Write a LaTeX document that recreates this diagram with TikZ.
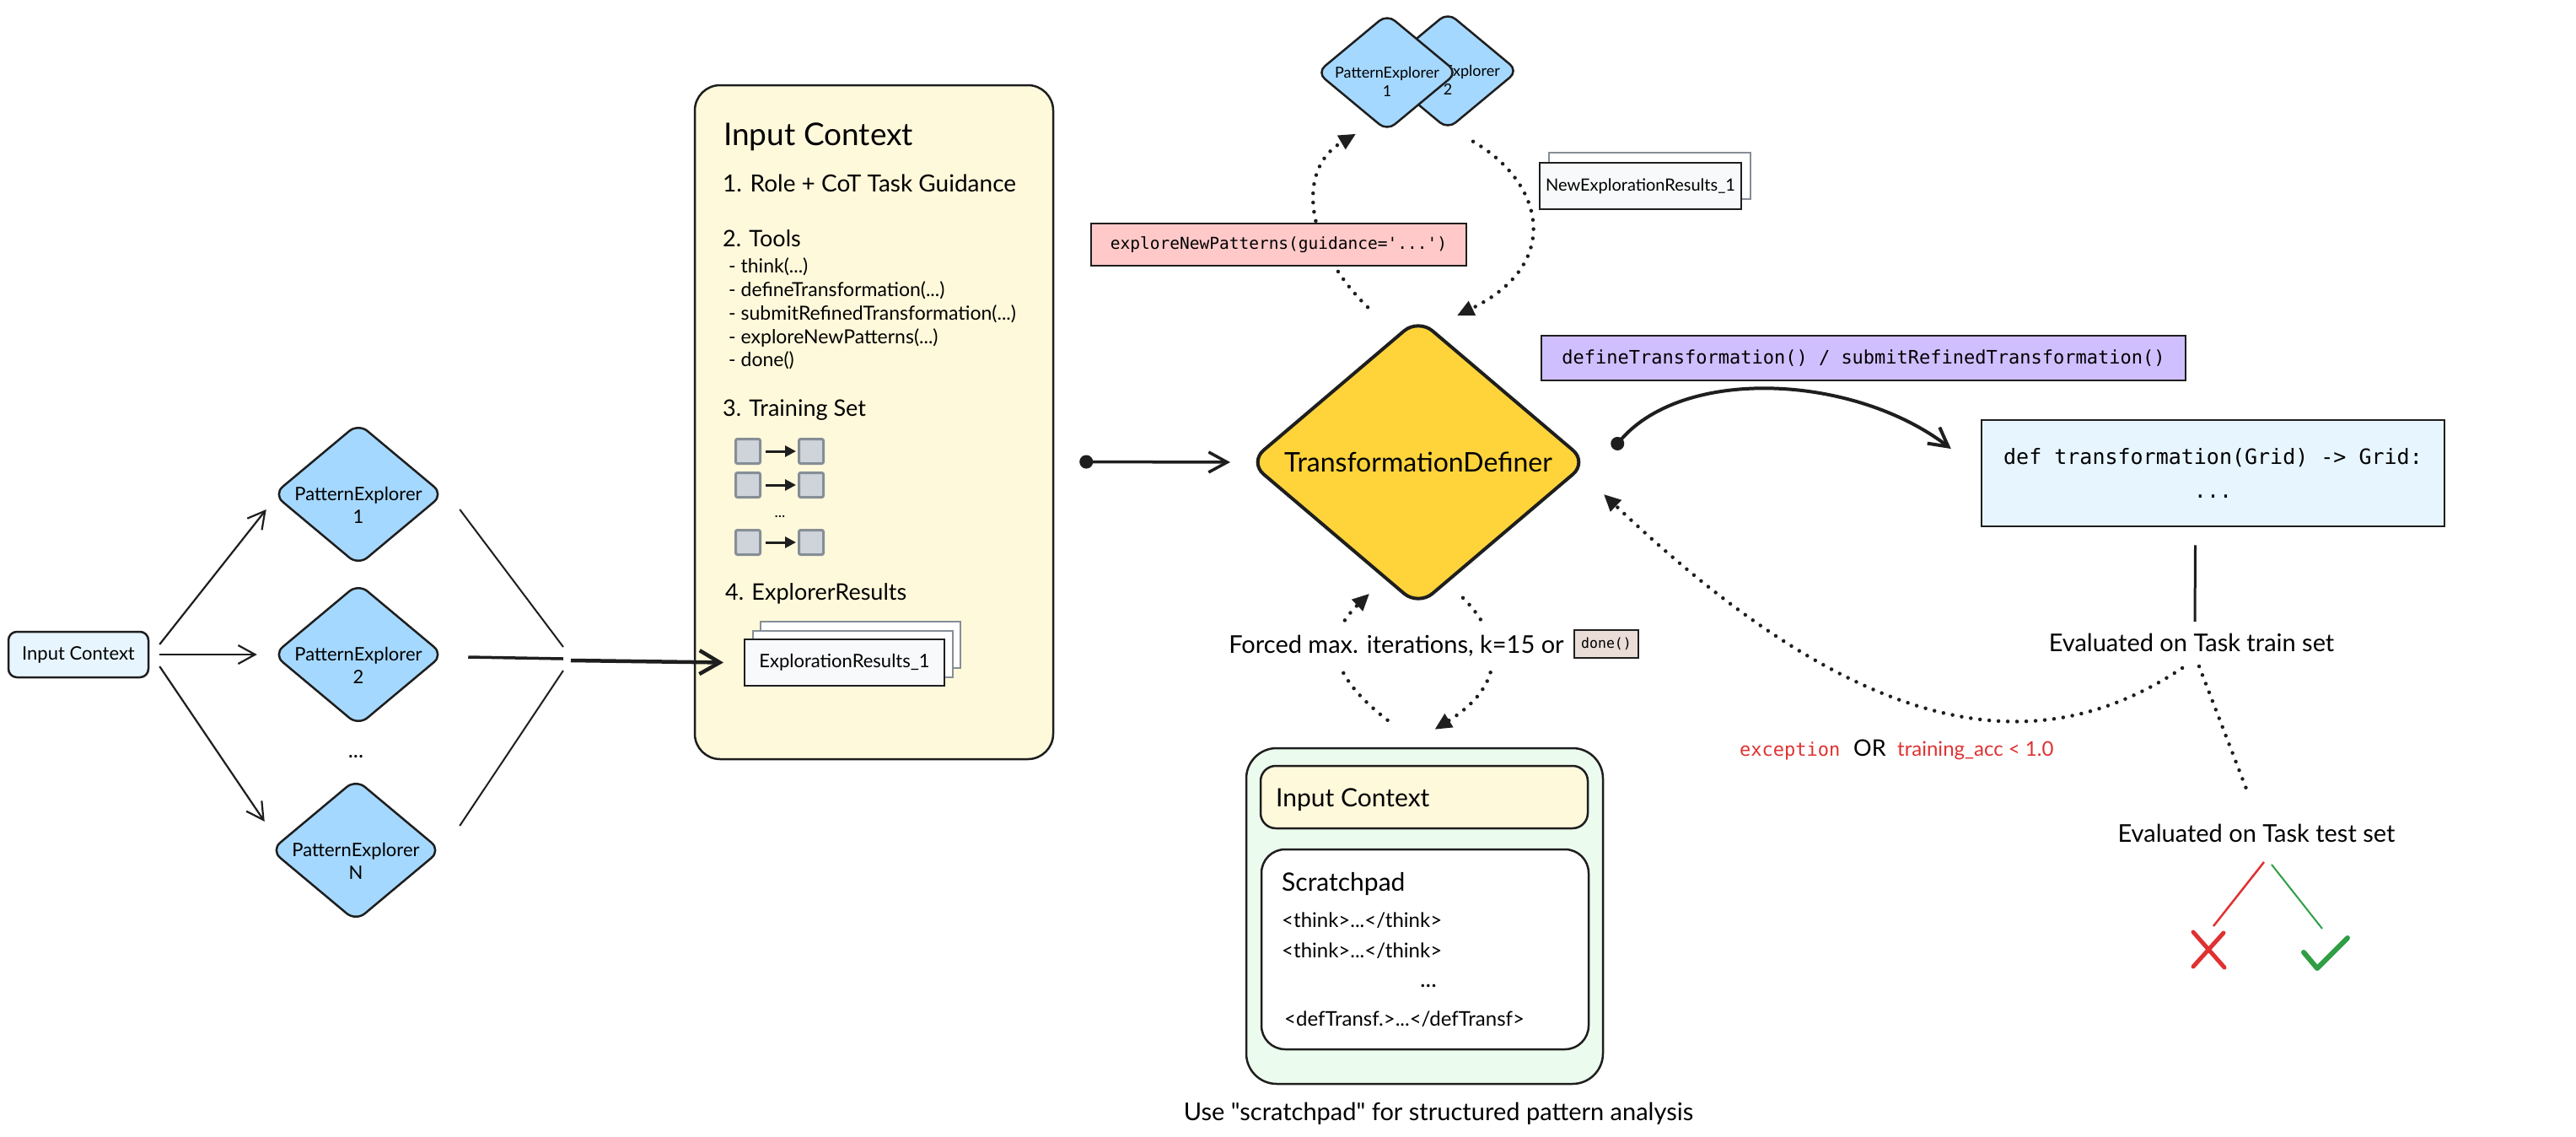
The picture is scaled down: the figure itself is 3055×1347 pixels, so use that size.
\documentclass[tikz,border=0pt]{standalone}
\usepackage{fontspec}
\setmainfont{Lato}
\setmonofont{DejaVu Sans Mono}
\newfontfamily\plainlato{Lato}
\usetikzlibrary{shapes.geometric,arrows.meta}

\definecolor{ink}{HTML}{1E1E1E}
\definecolor{peblue}{HTML}{A5D8FF}
\definecolor{paleblue}{HTML}{E7F5FF}
\definecolor{cream}{HTML}{FFF9DB}
\definecolor{gold}{HTML}{FFD43B}
\definecolor{rose}{HTML}{FFC9C9}
\definecolor{lilac}{HTML}{D0BFFF}
\definecolor{mint}{HTML}{EBFBEE}
\definecolor{sand}{HTML}{EADDD7}
\definecolor{cellfill}{HTML}{CED4DA}
\definecolor{cellline}{HTML}{868E96}
\definecolor{paper}{HTML}{F8F9FA}
\definecolor{errred}{HTML}{E03131}
\definecolor{okgreen}{HTML}{2F9E44}

\newcommand{\fsz}[1]{\fontsize{#1}{#1}\selectfont}

\begin{document}
\begin{tikzpicture}[x=1pt,y=-1pt,
  explorer/.style={diamond,draw=ink,line width=2.5pt,fill=peblue,rounded corners=14pt,
    minimum width=202pt,minimum height=169pt,inner sep=0pt,
    label={[font={\fontsize{22}{27}\selectfont},align=center,yshift=-13pt,inner sep=0pt]center:#1}},
  scout/.style={diamond,draw=ink,line width=2.5pt,fill=peblue,rounded corners=12pt,
    minimum width=167pt,minimum height=139pt,inner sep=0pt,
    label={[font={\fontsize{18}{22}\selectfont},align=center,yshift=-11pt,inner sep=0pt]center:#1}},
  core/.style={diamond,draw=ink,line width=4pt,fill=gold,rounded corners=22pt,
    minimum width=402pt,minimum height=274pt,inner sep=0pt,font=\fsz{32}},
  srcbox/.style={rectangle,rounded corners=10pt,draw=ink,line width=2.5pt,fill=paleblue,
    minimum width=166pt,minimum height=54pt,font=\fsz{22}},
  entry/.style={anchor=base west,inner sep=0pt},
  note/.style={inner sep=0pt,font=\fsz{29}},
  cell/.style={rectangle,draw=cellline,line width=3pt,fill=cellfill,rounded corners=2pt,
    minimum size=29pt,inner sep=0pt},
  card/.style={rectangle,draw=ink,line width=2pt,fill=paper,minimum width=237pt,minimum height=55pt},
  backcard/.style={card,draw=cellline,fill=white},
  call/.style={rectangle,draw=ink,line width=2.5pt,inner sep=0pt},
  panel/.style={rectangle,draw=ink,line width=2.5pt,minimum width=388pt},
  flow/.style={draw=ink,line width=2.2pt,-{Straight Barb[length=20pt,width=22pt]}},
  merge/.style={draw=ink,line width=2pt},
  link/.style={draw=ink,line width=3.5pt,{Circle[length=16pt]}-{Straight Barb[length=22pt,width=24pt]}},
  pair/.style={draw=ink,line width=3pt,-{Triangle[length=13pt,width=13pt]},shorten <=5pt,shorten >=2pt},
  dotflow/.style={draw=ink,line width=4.5pt,line cap=round,dash pattern=on 0pt off 11pt},
  pointed/.style={-{Triangle[length=20pt,width=18pt]}}]

  \fill[white] (0,0) rectangle (3055,1347);
  \useasboundingbox (0,0) rectangle (3055,1347);

  % explorers on the left
  \node[srcbox] (ic0) at (93,776) {Input Context};
  \node[explorer={PatternExplorer\\1}] (pe1) at (425,586) {};
  \node[explorer={PatternExplorer\\2}] (pe2) at (425,776) {};
  \node[font=\fsz{26}] (gap) at (422,897) {...};
  \node[explorer={PatternExplorer\\N}] (pen) at (422,1008) {};
  \coordinate (join) at (668,783);

  \draw[flow] ([xshift=12pt,yshift=12pt]ic0.east) -- ([xshift=-7pt,yshift=-18pt]pe1.west);
  \draw[flow] ([xshift=12pt]ic0.east) -- ([xshift=-18pt]pe2.west);
  \draw[flow] ([xshift=12pt,yshift=-14pt]ic0.east) -- ([xshift=-6pt,yshift=34pt]pen.west);

  \draw[merge] ([xshift=18pt,yshift=-18pt]pe1.east) -- ([yshift=16pt]join);
  \draw[merge,line width=3.5pt] ([xshift=28pt,yshift=-3pt]pe2.east) -- ([yshift=2pt]join);
  \draw[merge] ([xshift=21pt,yshift=29pt]pen.east) -- ([yshift=-12pt]join);

  % input context
  \node[rectangle,draw=ink,line width=2.5pt,fill=cream,rounded corners=30pt,
        minimum width=425pt,minimum height=799pt] (ctx) at (1036.5,500.5) {};
  \node[entry,font=\fsz{37}] (ctxtitle) at (858,172) {Input Context};
  \node[entry,font=\fsz{28}] (role) at (857,227) {1. Role + CoT Task Guidance};
  \node[entry,font=\fsz{27}] (tools) at (857,292) {2. Tools};
  \node[entry,font=\fsz{23}] (tool1) at (864,323) {- think(...)};
  \node[entry,font=\fsz{23}] (tool2) at (864,351) {- defineTransformation(...)};
  \node[entry,font=\fsz{23}] (tool3) at (864,379) {- submitRefinedTransformation(...)};
  \node[entry,font=\fsz{23}] (tool4) at (864,407) {- exploreNewPatterns(...)};
  \node[entry,font=\fsz{23}] (tool5) at (864,434) {- done()};
  \node[entry,font=\fsz{27}] (trainhead) at (857,493) {3. Training Set};

  \node[cell] (in1) at (887,535) {};
  \node[cell] (out1) at (962,535) {};
  \node[cell] (in2) at (887,575) {};
  \node[cell] (out2) at (962,575) {};
  \node[font=\fsz{18}] (more) at (925,612) {...};
  \node[cell] (in3) at (887,643) {};
  \node[cell] (out3) at (962,643) {};
  \draw[pair] (in1) -- (out1);
  \draw[pair] (in2) -- (out2);
  \draw[pair] (in3) -- (out3);

  \node[entry,font=\fsz{27}] (found) at (860,711) {4. ExplorerResults};
  \node[backcard] (res3) at (1020.5,764.5) {};
  \node[backcard] (res2) at (1011,775) {};
  \node[card,font=\fsz{22}] (res) at (1001.5,785.5) {ExplorationResults\_1};

  \draw[flow,line width=4.5pt,-{Straight Barb[length=24pt,width=28pt]}] ([xshift=9pt]join) -- ([xshift=-24pt]res.west);

  % definer
  \node[core] (td) at (1682,548) {TransformationDefiner};
  \draw[link] ([xshift=30pt,yshift=-47pt]ctx.east) -- ([xshift=-20pt]td.west);

  % new exploration round
  \node[scout={PatternExplorer\\2}] (tpe2) at (1717,84) {};
  \node[scout={PatternExplorer\\1}] (tpe1) at (1645,86) {};
  \draw[dotflow,pointed] ([xshift=-60pt,yshift=11pt]td.north) .. controls +(-72,-70) and +(-73,43) .. ([xshift=-37pt,yshift=-2pt]tpe1.south);
  \draw[dotflow,pointed] ([xshift=30pt,yshift=-13pt]tpe2.south) .. controls +(83,48) and +(127,-62) .. ([xshift=46pt,yshift=1pt]td.north);
  \node[call,fill=rose,minimum width=445pt,minimum height=50pt,font=\ttfamily\fsz{19.5}] (ask) at (1516.5,290) {exploreNewPatterns(guidance='...')};
  \node[backcard,minimum width=239pt] (newres2) at (1956.5,208.5) {};
  \node[card,minimum width=239pt,font=\fsz{20}] (newres) at (1945.5,220.5) {NewExplorationResults\_1};

  % transformation code
  \node[call,fill=lilac,minimum width=764pt,minimum height=53pt,font=\ttfamily\fsz{22}] (submit) at (2210,424.5) {defineTransformation() / submitRefinedTransformation()};
  \node[call,fill=paleblue,minimum width=549pt,minimum height=126pt,align=center,
        font=\ttfamily\fontsize{25}{40}\selectfont] (code) at (2624.5,561) {def transformation(Grid) -> Grid:\\...};
  \draw[link,line width=4pt] ([xshift=28pt,yshift=16pt]td.east) .. controls +(85,-98) and +(-115,-88) .. ([xshift=-35pt,yshift=29pt]code.west);

  % evaluation
  \node[note] (train) at (2599,762) {Evaluated on Task train set};
  \node[note] (test) at (2676,988) {Evaluated on Task test set};
  \draw[draw=ink,line width=3pt] ([xshift=-21pt,yshift=-21pt]code.south) -- ([xshift=4pt,yshift=14pt]train.north);
  \draw[dotflow] ([xshift=9pt,yshift=-17pt]train.south) -- ([xshift=-9pt,yshift=34pt]test.north);
  \draw[dotflow,pointed] ([xshift=-11pt,yshift=-19pt]train.south) .. controls +(-168,112) and +(313,298) .. ([xshift=17pt,yshift=-38pt]td.east);
  \node[entry,font=\ttfamily\fsz{22},text=errred] (exc) at (2063,896) {exception};
  \node[entry,font=\fsz{27}] (orword) at (2198,896) {OR};
  \node[entry,font=\fsz{24},text=errred] (acc) at (2250,896) {training\_acc < 1.0};

  \coordinate (fail) at (2619,1125);
  \coordinate (pass) at (2758,1130);
  \draw[errred,line width=2.5pt] ([xshift=9pt,yshift=-23pt]test.south) -- ([xshift=6pt,yshift=27pt]fail);
  \draw[okgreen,line width=2pt] ([xshift=18pt,yshift=-26pt]test.south) -- ([xshift=-4pt,yshift=29pt]pass);
  \draw[errred,line width=5pt,line cap=round] (fail) ++(-18,-20) -- ++(37,42) (fail) ++(18,-19) -- ++(-36,40);
  \draw[okgreen,line width=6pt,line cap=round,line join=round] (pass) ++(-26,-1) -- ++(16,19) -- ++(36,-36);

  % scratchpad loop
  \node[rectangle,draw=ink,line width=2.5pt,fill=mint,rounded corners=36pt,
        minimum width=423pt,minimum height=398pt] (scr) at (1689.5,1086) {};
  \node[panel,fill=cream,minimum height=74pt,rounded corners=18pt] (scrctx) at (1689,945) {};
  \node[entry,font=\fsz{30}] (scrctxtext) at (1513,956) {Input Context};
  \node[panel,fill=white,minimum height=237pt,rounded corners=28pt] (pad) at (1690,1125.5) {};
  \node[entry,font=\fsz{30}] (padtitle) at (1520,1056) {Scratchpad};
  \node[entry,font=\fsz{24}] (think1) at (1520,1099) {<think>...</think>};
  \node[entry,font=\fsz{24}] (think2) at (1520,1135) {<think>...</think>};
  \node[anchor=base,inner sep=0pt,font=\fsz{28}] (padmore) at (1694,1170) {...};
  \node[entry,font=\fsz{24}] (deftag) at (1523,1216) {<defTransf.>...</defTransf>};
  \node[note,font=\plainlato\fsz{29}] (hint) at (1706,1320) {Use "scratchpad" for structured pattern analysis};

  \draw[dotflow,pointed] ([xshift=-44pt,yshift=32pt]scr.north) .. controls +(-71,-55) and +(-54,52) .. ([xshift=-58pt,yshift=17pt]td.south);
  \draw[dotflow,pointed] ([xshift=53pt,yshift=12pt]td.south) .. controls +(45,45) and +(88,-55) .. ([xshift=12pt,yshift=21pt]scr.north);
  \node[note,fill=white,inner xsep=4pt,inner ysep=15pt] (limit) at (1656,766) {Forced max. iterations, k=15 or};
  \node[call,fill=sand,line width=2pt,minimum width=76pt,minimum height=33pt,font=\ttfamily\fsz{16.5}] (stop) at (1905,763.5) {done()};
\end{tikzpicture}
\end{document}
